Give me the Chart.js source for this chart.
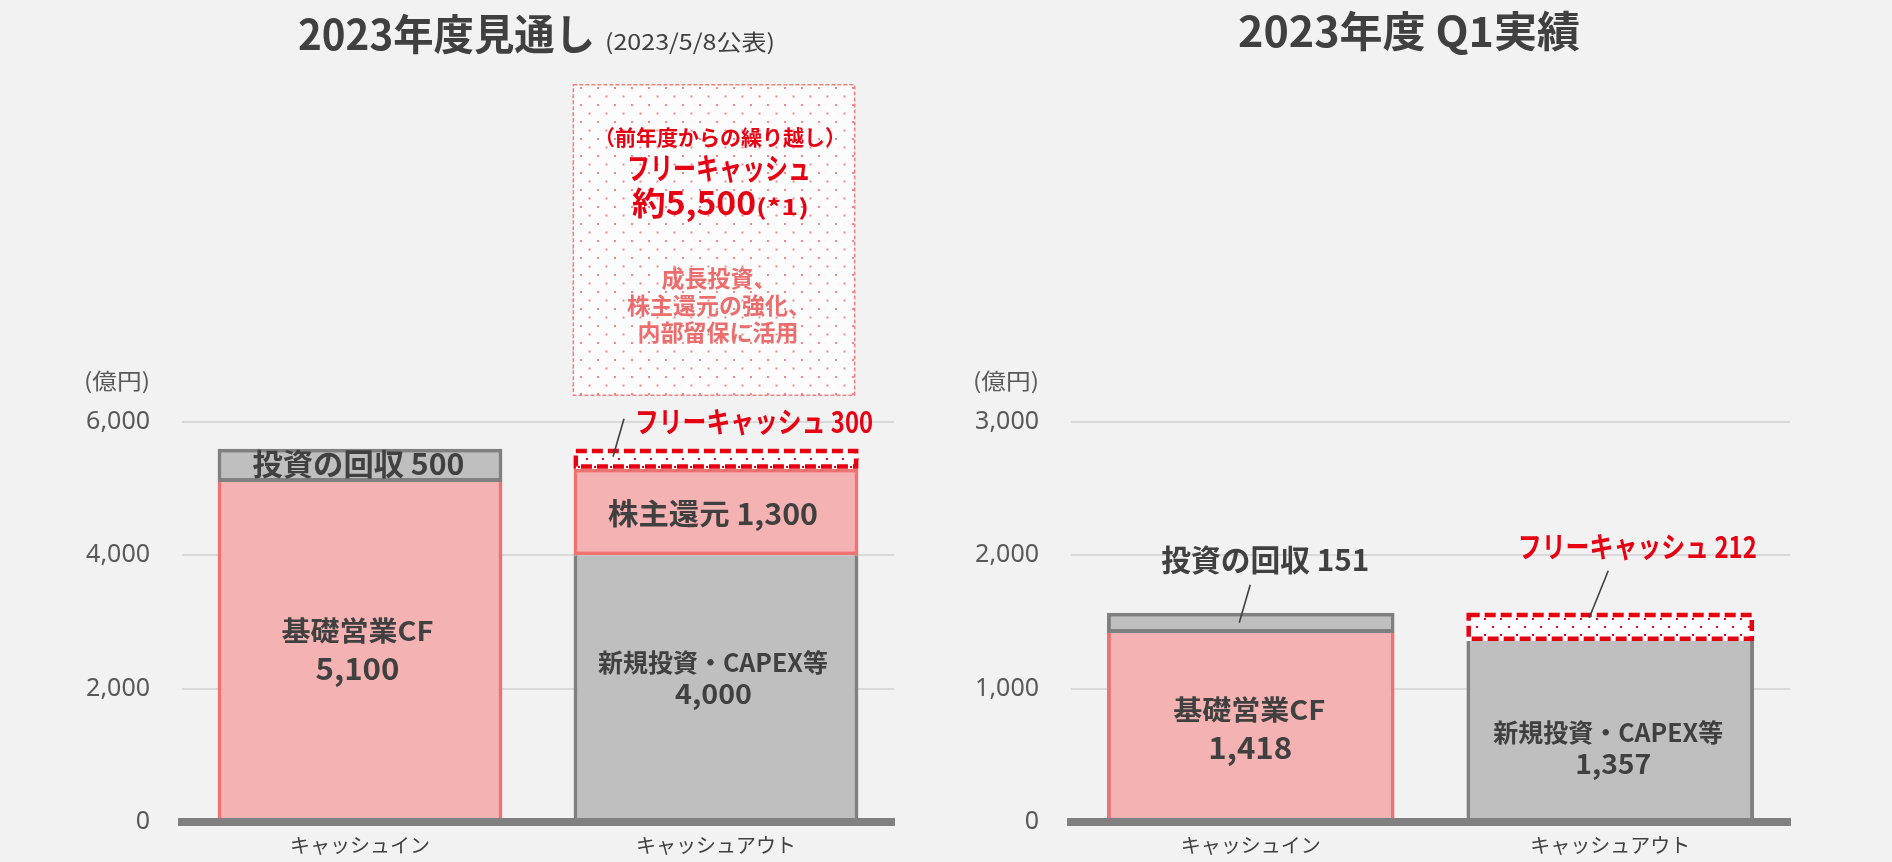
<!DOCTYPE html>
<html><head><meta charset="utf-8">
<script src="https://cdn.jsdelivr.net/npm/chart.js@4.4.0/dist/chart.umd.min.js"></script>
<style>
html,body{margin:0;padding:0;background:#f2f2f2;}
#wrap{position:relative;width:1892px;height:862px;overflow:hidden;background:#f2f2f2;}
#c1{position:absolute;left:0;top:0;}
#c2{position:absolute;left:946px;top:0;}
</style></head><body>
<div id="wrap"><canvas id="c1" width="946" height="862"></canvas><canvas id="c2" width="946" height="862"></canvas></div>
<script>
// ---- data ----
const categories = ['キャッシュイン', 'キャッシュアウト'];
// 2023年度見通し (2023/5/8公表)
const planBaseCF   = [5100, null];
const planRecovery = [500, null];
const planCapex    = [null, 4000];
const planReturn   = [null, 1300];
const planFreeCash = [null, 300];
const planTicks    = [0, 2000, 4000, 6000];
const carryOverFreeCash = 5500;
// 2023年度 Q1実績
const q1BaseCF   = [1418, null];
const q1Recovery = [151, null];
const q1Capex    = [null, 1357];
const q1FreeCash = [null, 212];
const q1Ticks    = [0, 1000, 2000, 3000];

// ---- styles ----
const JP = '"Noto Sans CJK JP", "Noto Sans", sans-serif';
const DARK = '#404040', RED = '#e60012', PINK_TEXT = '#ec6d6d';
const PINK = '#f4b2b2', PINK_B = '#ef7373', GRAY = '#bfbfbf', GRAY_B = '#808080';
const fmt = v => v.toLocaleString('en-US');

function dotPattern(canvas, color, bg, tile) {
  const c = document.createElement('canvas');
  c.width = tile; c.height = tile;
  const g = c.getContext('2d');
  g.fillStyle = bg; g.fillRect(0, 0, tile, tile);
  g.fillStyle = color;
  g.fillRect(2, 2, 2, 2);
  g.fillRect(2 + tile / 2, 2 + tile / 2, 2, 2);
  return canvas.getContext('2d').createPattern(c, 'repeat');
}

function drawText(ctx, text, x, y, size, color, opt = {}) {
  ctx.save();
  ctx.font = (opt.bold === false ? '400 ' : '700 ') + size + 'px ' + JP;
  ctx.fillStyle = color;
  ctx.textAlign = 'left';
  ctx.textBaseline = opt.baseline || 'middle';
  const w = ctx.measureText(text).width;
  const s = opt.width ? opt.width / w : 1;
  const drawn = w * s;
  const align = opt.align || 'center';
  let left = x;
  if (align === 'center') left = x - drawn / 2;
  else if (align === 'right') left = x - drawn;
  ctx.translate(left, y);
  ctx.scale(s, 1);
  ctx.fillText(text, 0, 0);
  ctx.restore();
}

function elProps(chart, d, i) {
  return chart.getDatasetMeta(d).data[i].getProps(['x', 'y', 'base', 'width'], true);
}

function annotPlugin(cfg) {
  return {
    id: 'annot',
    afterDatasetsDraw(chart) {
      const ctx = chart.ctx;
      cfg.dashed.forEach(([d, i]) => {
        const p = elProps(chart, d, i);
        const lw = 4.5;
        ctx.save();
        ctx.strokeStyle = RED; ctx.lineWidth = lw; ctx.setLineDash([11, 5]);
        ctx.strokeRect(p.x - p.width / 2 + lw / 2, p.y + lw / 2, p.width - lw, p.base - p.y - lw);
        ctx.restore();
      });
    },
    afterDraw(chart) {
      const ctx = chart.ctx;
      const area = chart.chartArea;
      cfg.titles.forEach(t => drawText(ctx, t.text, t.x, t.y, t.size, DARK,
        {bold: t.bold, align: 'left', baseline: 'alphabetic', width: t.width}));
      drawText(ctx, '(億円)', area.left - 32, area.top - 41, 22, '#595959', {bold: false, align: 'right', width: 66});
      cfg.labels.forEach(l => {
        const p = elProps(chart, l.ds, l.idx);
        const ay = l.anchor === 'mid' ? (p.y + p.base) / 2 : p.y;
        l.lines.forEach(line => drawText(ctx, line.t, p.x + line.dx, ay + line.dy, line.size, line.color || DARK, {width: line.w}));
      });
      cfg.leaders.forEach(l => {
        const p = elProps(chart, l.ds, l.idx);
        ctx.save();
        ctx.strokeStyle = DARK; ctx.lineWidth = 1.6;
        ctx.beginPath();
        ctx.moveTo(p.x + l.x1, p.y + l.y1);
        ctx.lineTo(p.x + l.x2, p.y + l.y2);
        ctx.stroke();
        ctx.restore();
      });
      if (cfg.box) cfg.box(chart);
    }
  };
}

function makeChart(id, datasets, ticks, yWidth, padRight, cfg) {
  return new Chart(document.getElementById(id), {
    type: 'bar',
    data: {labels: categories, datasets},
    options: {
      responsive: false, animation: false, devicePixelRatio: 1,
      layout: {padding: {top: 422, right: padRight, bottom: 0, left: 0}},
      plugins: {legend: {display: false}, tooltip: {enabled: false}, title: {display: false}},
      datasets: {bar: {barPercentage: 0.8, categoryPercentage: 1.0}},
      scales: {
        x: {
          stacked: true,
          grid: {display: false, drawTicks: false},
          border: {display: true, color: '#808080', width: 8, z: 1},
          ticks: {color: DARK, font: {family: JP, size: 20}, padding: 11},
          afterFit: s => { s.height = 40; }
        },
        y: {
          stacked: true, min: 0, max: ticks[ticks.length - 1],
          afterBuildTicks: s => { s.ticks = ticks.map(v => ({value: v})); },
          grid: {color: '#d9d9d9', lineWidth: 2, drawTicks: true, tickLength: 32, tickColor: 'rgba(0,0,0,0)'},
          border: {display: false},
          ticks: {color: '#595959', font: {family: '"Noto Sans", sans-serif', size: 25}, padding: 0, callback: v => fmt(v)},
          afterFit: s => { s.width = yWidth; }
        }
      }
    },
    plugins: [annotPlugin(cfg)]
  });
}

const side4 = {top: 0, bottom: 0, left: 4, right: 4};
const c1 = document.getElementById('c1');
const c2 = document.getElementById('c2');

// ---- chart 1: 2023年度見通し ----
makeChart('c1', [
  {label: '基礎営業CF', data: planBaseCF, backgroundColor: PINK, borderColor: PINK_B, borderWidth: side4, borderSkipped: false},
  {label: '投資の回収', data: planRecovery, backgroundColor: GRAY, borderColor: GRAY_B, borderWidth: 4, borderSkipped: false},
  {label: '新規投資・CAPEX等', data: planCapex, backgroundColor: GRAY, borderColor: GRAY_B, borderWidth: side4, borderSkipped: false},
  {label: '株主還元', data: planReturn, backgroundColor: PINK, borderColor: PINK_B, borderWidth: 4, borderSkipped: false},
  {label: 'フリーキャッシュ', data: planFreeCash, backgroundColor: dotPattern(c1, RED, '#ffffff', 16), borderWidth: 0}
], planTicks, 182, 52, {
  titles: [
    {text: '2023年度見通し', x: 298, y: 50, size: 42, width: 297},
    {text: '(2023/5/8公表)', x: 605, y: 50, size: 22, bold: false, width: 170}
  ],
  dashed: [[4, 1]],
  labels: [
    {ds: 1, idx: 0, anchor: 'mid', lines: [{t: '投資の回収 ' + fmt(planRecovery[0]), dx: -1.5, dy: -2, size: 30, w: 212}]},
    {ds: 0, idx: 0, anchor: 'mid', lines: [
      {t: '基礎営業CF', dx: -2.5, dy: -21, size: 27, w: 152},
      {t: fmt(planBaseCF[0]), dx: -2.5, dy: 17, size: 30, w: 84}]},
    {ds: 3, idx: 1, anchor: 'mid', lines: [{t: '株主還元 ' + fmt(planReturn[1]), dx: -3, dy: 2, size: 29, w: 210}]},
    {ds: 2, idx: 1, anchor: 'mid', lines: [
      {t: '新規投資・CAPEX等', dx: -3, dy: -26, size: 25, w: 230},
      {t: fmt(planCapex[1]), dx: -2.5, dy: 6, size: 27, w: 77}]},
    {ds: 4, idx: 1, anchor: 'top', lines: [{t: 'フリーキャッシュ ' + fmt(planFreeCash[1]), dx: 38, dy: -27, size: 29, w: 238, color: RED}]}
  ],
  leaders: [{ds: 4, idx: 1, x1: -92, y1: -30, x2: -103, y2: 8}],
  box(chart) {
    const ctx = chart.ctx;
    const p = elProps(chart, 4, 1);
    const left = p.x - p.width / 2 - 1, right = p.x + p.width / 2 - 3;
    const top = chart.chartArea.top - 338, bottom = chart.chartArea.top - 26;
    ctx.save();
    ctx.fillStyle = dotPattern(c1, '#f08a8a', '#fcfcfc', 17);
    ctx.fillRect(left, top, right - left, bottom - top);
    ctx.strokeStyle = '#f08080'; ctx.lineWidth = 1.5; ctx.setLineDash([4, 2]);
    ctx.strokeRect(left + 0.75, top + 0.75, right - left - 1.5, bottom - top - 1.5);
    ctx.restore();
    const cx = (left + right) / 2 + 5;
    drawText(ctx, '（前年度からの繰り越し）', cx + 1, top + 53, 21, RED);
    drawText(ctx, 'フリーキャッシュ', cx, top + 84, 30, RED, {width: 184});
    drawText(ctx, '約' + fmt(carryOverFreeCash), cx - 87, top + 131, 32, RED, {align: 'left', baseline: 'alphabetic', width: 124});
    drawText(ctx, '(*1)', cx + 37, top + 131, 22, RED, {align: 'left', baseline: 'alphabetic', width: 53});
    drawText(ctx, '成長投資、', cx, top + 194, 23, PINK_TEXT);
    drawText(ctx, '株主還元の強化、', cx, top + 221, 23, PINK_TEXT);
    drawText(ctx, '内部留保に活用', cx - 1, top + 248, 23, PINK_TEXT);
  }
});

// ---- chart 2: 2023年度 Q1実績 ----
makeChart('c2', [
  {label: '基礎営業CF', data: q1BaseCF, backgroundColor: PINK, borderColor: PINK_B, borderWidth: side4, borderSkipped: false},
  {label: '投資の回収', data: q1Recovery, backgroundColor: GRAY, borderColor: GRAY_B, borderWidth: 4, borderSkipped: false},
  {label: '新規投資・CAPEX等', data: q1Capex, backgroundColor: GRAY, borderColor: GRAY_B, borderWidth: side4, borderSkipped: false},
  {label: 'フリーキャッシュ', data: q1FreeCash, backgroundColor: dotPattern(c2, RED, '#ffffff', 16), borderWidth: 0}
], q1Ticks, 125, 102, {
  titles: [
    {text: '2023年度 Q1実績', x: 292, y: 47, size: 42, width: 342}
  ],
  dashed: [[3, 1]],
  labels: [
    {ds: 1, idx: 0, anchor: 'top', lines: [{t: '投資の回収 ' + fmt(q1Recovery[0]), dx: 14.5, dy: -53, size: 30, w: 208}]},
    {ds: 0, idx: 0, anchor: 'mid', lines: [
      {t: '基礎営業CF', dx: -1.5, dy: -17.5, size: 27, w: 152},
      {t: fmt(q1BaseCF[0]), dx: -0.5, dy: 20.5, size: 30, w: 84}]},
    {ds: 2, idx: 1, anchor: 'mid', lines: [
      {t: '新規投資・CAPEX等', dx: -2, dy: 1.5, size: 25, w: 230},
      {t: fmt(q1Capex[1]), dx: 3, dy: 32.5, size: 27, w: 76}]},
    {ds: 3, idx: 1, anchor: 'top', lines: [{t: 'フリーキャッシュ ' + fmt(q1FreeCash[1]), dx: 27, dy: -66, size: 29, w: 239, color: RED}]}
  ],
  leaders: [
    {ds: 1, idx: 0, x1: -0.5, y1: -28, x2: -11.5, y2: 10},
    {ds: 3, idx: 1, x1: -2, y1: -42, x2: -21, y2: 5}
  ]
});
</script>
</body></html>
